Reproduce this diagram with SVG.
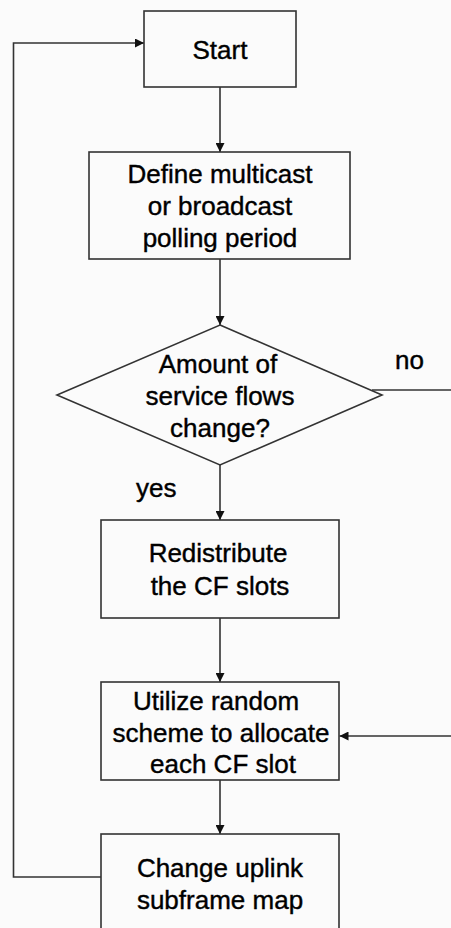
<svg xmlns="http://www.w3.org/2000/svg" width="451" height="928" viewBox="0 0 451 928">
  <style>
    .box { fill: none; stroke: #333; stroke-width: 1.6; }
    .edge { fill: none; stroke: #333; stroke-width: 1.6; }
    text { font-family: "Liberation Sans", Arial, sans-serif; font-size: 26px; fill: #000; stroke: #000; stroke-width: 0.4; text-anchor: middle; }
    .lbl { text-anchor: start; }
  </style>
  <defs>
    <marker id="arrow" viewBox="0 0 10 10" refX="10" refY="5" markerWidth="10" markerHeight="9" markerUnits="userSpaceOnUse" orient="auto">
      <path d="M0,0 L10,5 L0,10 Z" fill="#111"/>
    </marker>
  </defs>
  <rect x="0" y="0" width="451" height="928" fill="#fbfbfb"/>

  <g id="connectors">
    <line class="edge" x1="220" y1="87" x2="220" y2="152" marker-end="url(#arrow)"/>
    <line class="edge" x1="220" y1="259" x2="220" y2="325" marker-end="url(#arrow)"/>
    <line class="edge" x1="220" y1="465" x2="220" y2="520" marker-end="url(#arrow)"/>
    <line class="edge" x1="220" y1="618" x2="220" y2="682" marker-end="url(#arrow)"/>
    <line class="edge" x1="220" y1="780" x2="220" y2="834" marker-end="url(#arrow)"/>
    <line class="edge" x1="372" y1="390" x2="451" y2="390"/>
    <line class="edge" x1="451" y1="736" x2="339.5" y2="736" marker-end="url(#arrow)"/>
    <polyline class="edge" points="101,877 13.5,877 13.5,43 144,43" marker-end="url(#arrow)"/>
    <text class="lbl" x="395" y="369">no</text>
    <text class="lbl" x="136" y="497">yes</text>
  </g>

  <g id="start">
    <rect class="box" x="144" y="11" width="152" height="76"/>
    <text x="220" y="59">Start</text>
  </g>

  <g id="define-period">
    <rect class="box" x="89" y="152" width="261" height="107"/>
    <text x="220" y="183">Define multicast</text>
    <text x="220" y="215">or broadcast</text>
    <text x="220" y="246.5">polling period</text>
  </g>

  <g id="flows-changed">
    <polygon class="box" points="220,325 382,395 220,465 57,395"/>
    <text x="218" y="372.5">Amount of</text>
    <text x="220" y="405">service flows</text>
    <text x="220" y="436.5">change?</text>
  </g>

  <g id="redistribute">
    <rect class="box" x="101" y="520" width="238" height="98"/>
    <text x="218" y="561.5">Redistribute</text>
    <text x="220" y="595">the CF slots</text>
  </g>

  <g id="allocate">
    <rect class="box" x="101" y="682" width="238" height="98"/>
    <text x="216" y="710">Utilize random</text>
    <text x="221" y="741.5">scheme to allocate</text>
    <text x="223" y="772.5">each CF slot</text>
  </g>

  <g id="update-map">
    <rect class="box" x="101" y="834" width="238" height="110"/>
    <text x="220" y="877">Change uplink</text>
    <text x="220" y="909">subframe map</text>
  </g>
</svg>
